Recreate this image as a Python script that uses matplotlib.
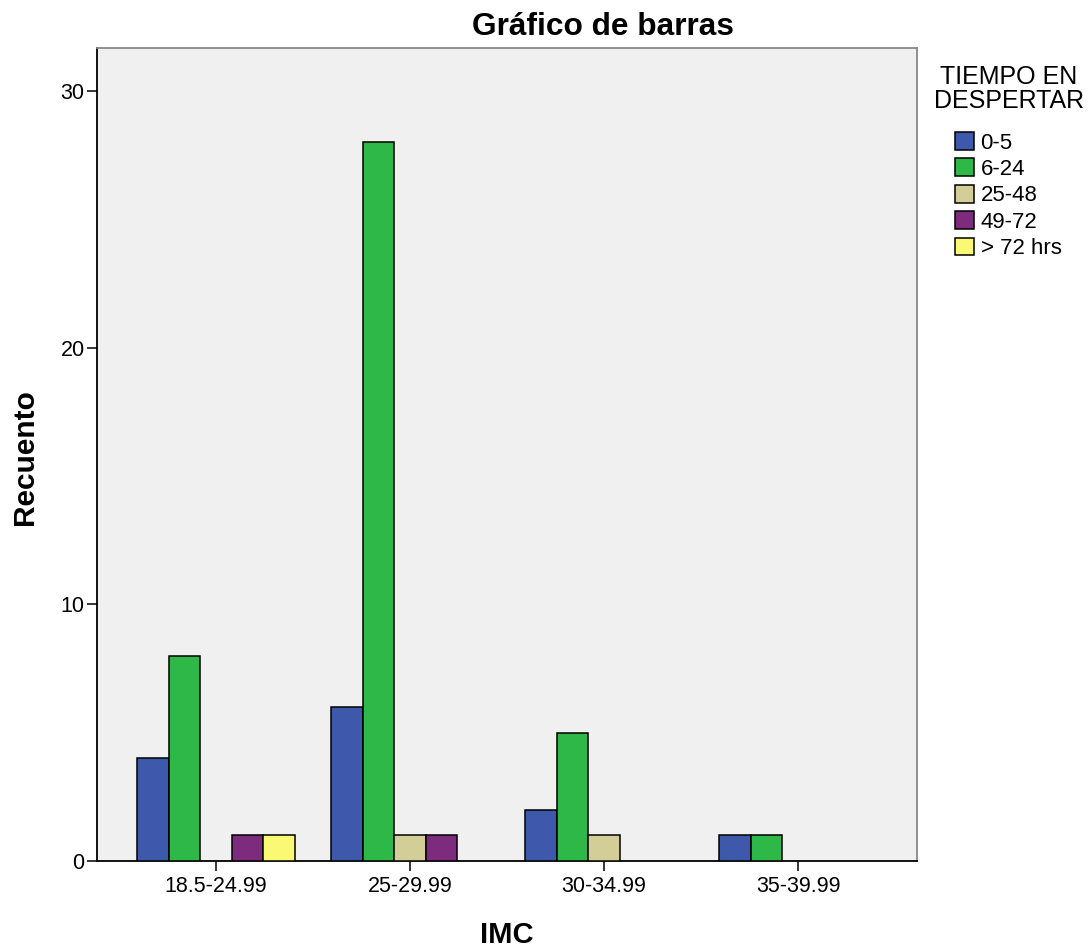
import numpy as np
import matplotlib
matplotlib.use("Agg")
import matplotlib.pyplot as plt

plt.rcParams['font.family'] = ['Liberation Sans', 'DejaVu Sans']

# datos
categorias = ['18.5-24.99', '25-29.99', '30-34.99', '35-39.99']
series = ['0-5', '6-24', '25-48', '49-72', '> 72 hrs']
valores = [
    [4, 6, 2, 1],    # 0-5
    [8, 28, 5, 1],   # 6-24
    [0, 1, 1, 0],    # 25-48
    [1, 1, 0, 0],    # 49-72
    [1, 0, 0, 0],    # > 72 hrs
]
colores = ['#3E58AC', '#2EB848', '#D3CE97', '#7D2B7C', '#FBF873']

fig = plt.figure(figsize=(10.91, 9.49), dpi=100)
ax = fig.add_axes([97 / 1091, 1 - 861 / 949, (917 - 97) / 1091, (861 - 48) / 949])
ax.set_facecolor('#F0F0F0')

x = np.arange(len(categorias))
w = 0.163
handles = []
for k, (nombre, vals, col) in enumerate(zip(series, valores, colores)):
    vals = np.array(vals, dtype=float)
    mask = vals > 0  # las barras en cero no se dibujan
    ax.bar(x[mask] + (k - 2) * w, vals[mask], width=w, color=col,
           edgecolor='black', linewidth=1.1, zorder=3)
    handles.append(plt.Rectangle((0, 0), 1, 1, facecolor=col, edgecolor='black', linewidth=1.1))

ax.set_xlim(-0.613, 3.613)
ax.set_ylim(0, 31.67)
ax.set_xticks(x)
ax.set_xticklabels(categorias)
ax.set_yticks([0, 10, 20, 30])
ax.tick_params(axis='both', direction='out', length=7, width=1.1, labelsize=15.5, color='black')
ax.tick_params(axis='x', pad=4)
ax.tick_params(axis='y', pad=2)

for s in ['left', 'bottom']:
    ax.spines[s].set_color('black')
    ax.spines[s].set_linewidth(1.3)
for s in ['top', 'right']:
    ax.spines[s].set_color('#888888')
    ax.spines[s].set_linewidth(1.3)

fig.text(603 / 1091, 1 - 27 / 949, 'Gráfico de barras', ha='center', va='center',
         fontsize=22.8, fontweight='bold')
fig.text(25 / 1091, 1 - 457 / 949, 'Recuento', ha='center', va='center',
         rotation=90, fontsize=21.5, fontweight='bold')
fig.text(507 / 1091, 1 - 935 / 949, 'IMC', ha='center', va='center',
         fontsize=21, fontweight='bold')

fig.text(1009 / 1091, 1 - 89 / 949, 'TIEMPO EN\nDESPERTAR', ha='center', va='center',
         fontsize=18, linespacing=1.0)

ax.legend(handles, series, loc='upper left', bbox_to_anchor=(955 / 1091, 1 - 132 / 949),
          bbox_transform=fig.transFigure, frameon=False, borderpad=0, borderaxespad=0,
          handlelength=0.85, handleheight=0.85, handletextpad=0.3, labelspacing=0.22,
          fontsize=16)

fig.savefig('out.png', dpi=100)
